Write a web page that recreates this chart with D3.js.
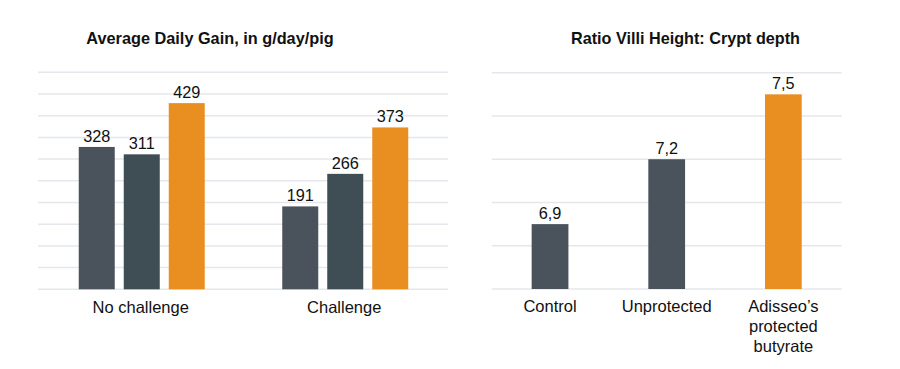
<!DOCTYPE html>
<html><head><meta charset="utf-8">
<script src="https://cdn.jsdelivr.net/npm/d3@7"></script>
<style>
body{margin:0;background:#fff;}
svg{display:block;font-family:"Liberation Sans",Arial,Helvetica,sans-serif;}
</style></head><body>
<svg id="c" width="900" height="369"></svg>
<script>
// Left chart data
const adgTitle = "Average Daily Gain, in g/day/pig";
const adgGroups = ["No challenge", "Challenge"];
const adgSeries = ["Control", "Unprotected", "Adisseo's protected butyrate"];
const adgValues = [[328, 311, 429], [191, 266, 373]];
const adgTicks = [0,50,100,150,200,250,300,350,400,450,500];

// Right chart data
const ratioTitle = "Ratio Villi Height: Crypt depth";
const ratioCategories = ["Control", "Unprotected", "Adisseo\u2019s protected butyrate"];
const ratioLabelLines = [["Control"], ["Unprotected"], ["Adisseo\u2019s", "protected", "butyrate"]];
const ratioValues = [6.9, 7.2, 7.5];
const ratioTicks = [6.6, 6.8, 7.0, 7.2, 7.4, 7.6];

const seriesColors = ["#4a535c", "#3e4e54", "#e98f22"];
const ratioColors = ["#4a535c", "#4a535c", "#e98f22"];
const gridColor = "#e4e7eb";

const svg = d3.select("#c");

// ---------- Left chart ----------
{
  const x0 = d3.scaleBand().domain(adgGroups).range([40, 447]).padding(0);
  const x1 = d3.scaleBand().domain(adgSeries).range([0, 126]).paddingInner(0.2).paddingOuter(0);
  const y = d3.scaleLinear().domain([0, 500]).range([289.3, 72.3]);
  const g = svg.append("g");
  g.selectAll("line.grid").data(adgTicks).join("line")
    .attr("x1", 38).attr("x2", 448)
    .attr("y1", d => y(d)).attr("y2", d => y(d))
    .attr("stroke", gridColor).attr("stroke-width", 1.5);
  const groups = g.selectAll("g.grp").data(adgGroups).join("g")
    .attr("transform", d => `translate(${x0(d) + x0.bandwidth()/2 - 63},0)`);
  groups.selectAll("rect").data((d,i) => adgValues[i].map((v,j) => ({v, s: adgSeries[j], j})))
    .join("rect")
    .attr("x", d => x1(d.s)).attr("width", x1.bandwidth())
    .attr("y", d => y(d.v)).attr("height", d => y(0) - y(d.v))
    .attr("fill", d => seriesColors[d.j]);
  groups.selectAll("text").data((d,i) => adgValues[i].map((v,j) => ({v, s: adgSeries[j]})))
    .join("text")
    .attr("x", d => x1(d.s) + x1.bandwidth()/2).attr("y", d => y(d.v) - 5)
    .attr("text-anchor", "middle").attr("font-size", 16.3).attr("fill", "#111")
    .text(d => d.v);
  g.selectAll("text.cat").data(adgGroups).join("text")
    .attr("class","cat")
    .attr("x", d => x0(d) + x0.bandwidth()/2 - 1).attr("y", 312.7)
    .attr("text-anchor","middle").attr("font-size",16.5).attr("fill","#111")
    .text(d => d);
  g.append("text").attr("x", 210).attr("y", 44).attr("text-anchor","middle")
    .attr("font-size", 16.3).attr("font-weight", "bold").attr("fill","#111")
    .text(adgTitle);
}

// ---------- Right chart ----------
{
  const x = d3.scaleBand().domain(ratioCategories).range([491.7, 841.7]).paddingInner(0.685).paddingOuter(0.3425);
  const y = d3.scaleLinear().domain([6.6, 7.6]).range([289, 72.7]);
  const g = svg.append("g");
  g.selectAll("line.grid").data(ratioTicks).join("line")
    .attr("x1", 491.7).attr("x2", 841.7)
    .attr("y1", d => y(d)).attr("y2", d => y(d))
    .attr("stroke", gridColor).attr("stroke-width", 1.5);
  g.selectAll("rect").data(ratioValues).join("rect")
    .attr("x", (d,i) => x(ratioCategories[i])).attr("width", x.bandwidth())
    .attr("y", d => y(d)).attr("height", d => y(6.6) - y(d))
    .attr("fill", (d,i) => ratioColors[i]);
  g.selectAll("text.val").data(ratioValues).join("text")
    .attr("class","val")
    .attr("x", (d,i) => x(ratioCategories[i]) + x.bandwidth()/2).attr("y", d => y(d) - 5)
    .attr("text-anchor","middle").attr("font-size",16.3).attr("fill","#111")
    .text(d => d3.format(".1f")(d).replace(".", ","));
  const cats = g.selectAll("text.cat").data(ratioCategories).join("text")
    .attr("class","cat")
    .attr("x", d => x(d) + x.bandwidth()/2).attr("y", 311.5)
    .attr("text-anchor","middle").attr("font-size",16.5).attr("fill","#111");
  cats.selectAll("tspan").data((d,i) => ratioLabelLines[i]).join("tspan")
    .attr("x", function(){ return this.parentNode.getAttribute("x"); })
    .attr("dy", (d,k) => k === 0 ? 0 : 20)
    .text(d => d);
  g.append("text").attr("x", 685.5).attr("y", 44).attr("text-anchor","middle")
    .attr("font-size", 16.2).attr("font-weight", "bold").attr("fill","#111")
    .text(ratioTitle);
}
</script>
</body></html>
